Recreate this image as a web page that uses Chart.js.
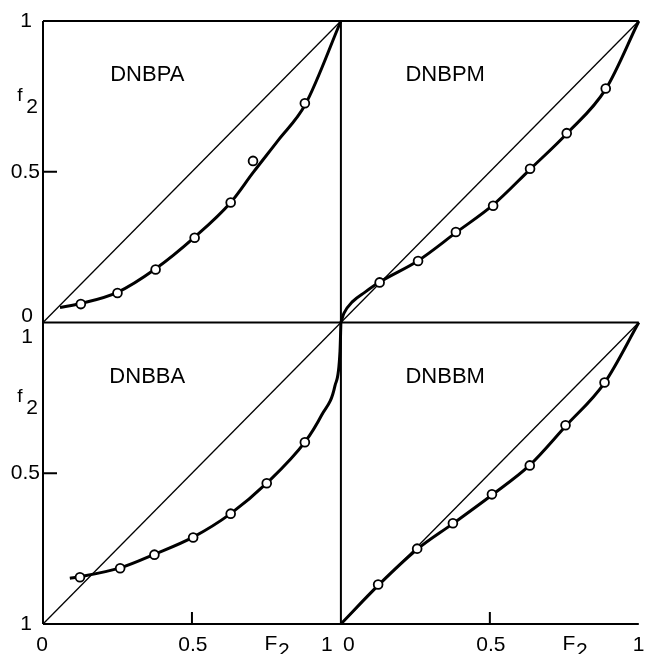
<!DOCTYPE html>
<html><head><meta charset="utf-8">
<script src="https://cdn.jsdelivr.net/npm/chart.js@4/dist/chart.umd.min.js"></script>
<style>html,body{margin:0;padding:0;background:#fff;overflow:hidden}#wrap{position:relative;width:645px;height:654px}canvas{display:block}</style>
</head><body><div id="wrap"><canvas id="c" width="645" height="654"></canvas></div>
<script>
// Panel titles
const panelTitles = ['DNBPA', 'DNBPM', 'DNBBA', 'DNBBM'];
// Axis tick labels
const yTopLabels = ['1', '0.5', '0'];
const yBottomLabels = ['1', '0.5', '1'];
const xLabels = ['0', '0.5', 'F', '2', '1'];

// Diagonal f2 = F2
const diagF = [0, 1];
const diagY = [0, 1];

// DNBPA (top-left): measured points and fitted curve
const dnbpaF = [0.127, 0.25, 0.378, 0.509, 0.630, 0.705, 0.879];
const dnbpaY = [0.061, 0.098, 0.176, 0.281, 0.398, 0.536, 0.727];
const dnbpaCurveF = [0.057, 0.127, 0.25, 0.378, 0.509, 0.63, 0.705, 0.79, 0.88, 1];
const dnbpaCurveY = [0.05, 0.063, 0.1, 0.178, 0.283, 0.398, 0.497, 0.605, 0.722, 1];

// DNBPM (top-right)
const dnbpmF = [0.130, 0.259, 0.386, 0.511, 0.635, 0.758, 0.889];
const dnbpmY = [0.133, 0.204, 0.300, 0.387, 0.510, 0.628, 0.776];
const dnbpmCurveF = [0, 0.01, 0.04, 0.08, 0.13, 0.259, 0.386, 0.511, 0.635, 0.758, 0.889, 1];
const dnbpmCurveY = [0, 0.03, 0.07, 0.1, 0.134, 0.205, 0.298, 0.39, 0.508, 0.626, 0.774, 1];

// DNBBA (bottom-left)
const dnbbaF = [0.124, 0.259, 0.374, 0.504, 0.630, 0.751, 0.879];
const dnbbaY = [0.155, 0.185, 0.230, 0.287, 0.366, 0.467, 0.603];
const dnbbaCurveF = [0.09, 0.124, 0.259, 0.374, 0.504, 0.63, 0.751, 0.879, 0.936, 0.98, 0.997, 1];
const dnbbaCurveY = [0.152, 0.157, 0.186, 0.231, 0.288, 0.366, 0.467, 0.603, 0.694, 0.79, 0.905, 1];

// DNBBM (bottom-right)
const dnbbmF = [0.125, 0.256, 0.376, 0.507, 0.634, 0.754, 0.885];
const dnbbmY = [0.131, 0.250, 0.334, 0.430, 0.526, 0.659, 0.801];
const dnbbmCurveF = [0, 0.125, 0.256, 0.376, 0.507, 0.634, 0.754, 0.885, 1];
const dnbbmCurveY = [0, 0.128, 0.248, 0.333, 0.428, 0.527, 0.656, 0.8, 1];

function pts(xs, ys) { return xs.map((x, i) => ({ x: x, y: ys[i] })); }
function curve(xs, ys, xa, ya, w) {
  return { data: pts(xs, ys), xAxisID: xa, yAxisID: ya, showLine: true, borderColor: '#000',
    borderWidth: w, pointRadius: 0, fill: false, cubicInterpolationMode: 'monotone', order: 2, clip: false };
}
function circles(xs, ys, xa, ya) {
  return { data: pts(xs, ys), xAxisID: xa, yAxisID: ya, showLine: false, pointRadius: 4.4,
    pointBackgroundColor: '#fff', pointBorderColor: '#000', pointBorderWidth: 1.8, order: 0, clip: false };
}

const panels = [
  { xa: 'xL', ya: 'yT', F: dnbpaF, Y: dnbpaY, cF: dnbpaCurveF, cY: dnbpaCurveY },
  { xa: 'xR', ya: 'yT', F: dnbpmF, Y: dnbpmY, cF: dnbpmCurveF, cY: dnbpmCurveY },
  { xa: 'xL', ya: 'yB', F: dnbbaF, Y: dnbbaY, cF: dnbbaCurveF, cY: dnbbaCurveY },
  { xa: 'xR', ya: 'yB', F: dnbbmF, Y: dnbbmY, cF: dnbbmCurveF, cY: dnbbmCurveY }
];

const datasets = [];
panels.forEach(p => {
  datasets.push(circles(p.F, p.Y, p.xa, p.ya));
  datasets.push(curve(p.cF, p.cY, p.xa, p.ya, 3));
  const d = curve(diagF, diagY, p.xa, p.ya, 1.3);
  d.cubicInterpolationMode = 'default'; d.order = 3;
  datasets.push(d);
});

const FONT = '"Liberation Sans", Arial, sans-serif';

const framePlugin = {
  id: 'frame',
  beforeDatasetsDraw(chart) {
    const ctx = chart.ctx, s = chart.scales;
    const L = s.xL.getPixelForValue(0), M = s.xL.getPixelForValue(1), R = s.xL.getPixelForValue(2);
    const T = s.yB.getPixelForValue(2), Mi = s.yB.getPixelForValue(1), B = s.yB.getPixelForValue(0);
    ctx.save();
    ctx.strokeStyle = '#000';
    ctx.lineWidth = 2;
    ctx.beginPath();
    ctx.moveTo(L, T); ctx.lineTo(R, T);
    ctx.moveTo(L, Mi); ctx.lineTo(R, Mi);
    ctx.moveTo(L, B); ctx.lineTo(R, B);
    ctx.moveTo(L, T); ctx.lineTo(L, B);
    ctx.moveTo(M, T); ctx.lineTo(M, B);
    // inward ticks at 0.5
    ctx.moveTo(L, s.yT.getPixelForValue(0.5)); ctx.lineTo(L + 14, s.yT.getPixelForValue(0.5));
    ctx.moveTo(L, s.yB.getPixelForValue(0.5)); ctx.lineTo(L + 14, s.yB.getPixelForValue(0.5));
    ctx.moveTo(s.xL.getPixelForValue(0.5), B); ctx.lineTo(s.xL.getPixelForValue(0.5), B - 12);
    ctx.moveTo(s.xR.getPixelForValue(0.5), B); ctx.lineTo(s.xR.getPixelForValue(0.5), B - 12);
    ctx.stroke();
    ctx.restore();
  },
  afterDatasetsDraw(chart) {
    const ctx = chart.ctx, s = chart.scales;
    const L = s.xL.getPixelForValue(0);
    const B = s.yB.getPixelForValue(0);
    ctx.save();
    ctx.fillStyle = '#000';
    // titles
    ctx.font = '22px ' + FONT;
    ctx.textAlign = 'center'; ctx.textBaseline = 'middle';
    panels.forEach((p, i) => {
      ctx.fillText(panelTitles[i], s[p.xa].getPixelForValue(0.35), s[p.ya].getPixelForValue(0.82));
    });
    // y labels
    ctx.font = '21px ' + FONT;
    ctx.textAlign = 'right';
    ctx.textBaseline = 'middle';
    ctx.fillText(yTopLabels[0], L - 11, s.yT.getPixelForValue(1));
    ctx.fillText(yTopLabels[1], L - 3, s.yT.getPixelForValue(0.5));
    ctx.textBaseline = 'alphabetic';
    ctx.fillText(yTopLabels[2], L - 10, s.yT.getPixelForValue(0) - 1);
    ctx.fillText(yBottomLabels[0], L - 10, s.yB.getPixelForValue(1) + 20);
    ctx.textBaseline = 'middle';
    ctx.fillText(yBottomLabels[1], L - 3, s.yB.getPixelForValue(0.5));
    ctx.fillText(yBottomLabels[2], L - 11, B);
    // f2 labels
    [s.yT, s.yB].forEach(ys => {
      ctx.textAlign = 'center'; ctx.textBaseline = 'alphabetic';
      ctx.font = '19px ' + FONT;
      ctx.fillText('f', L - 23, ys.getPixelForValue(0.735));
      ctx.font = '21px ' + FONT;
      ctx.fillText('2', L - 11, ys.getPixelForValue(0.695));
    });
    // x labels
    ctx.font = '21px ' + FONT;
    ctx.textAlign = 'center'; ctx.textBaseline = 'top';
    const ty = B + 11;
    [s.xL, s.xR].forEach((xs, k) => {
      ctx.fillText(xLabels[0], xs.getPixelForValue(0) + (k === 0 ? -1 : 8), ty);
      ctx.fillText(xLabels[1], xs.getPixelForValue(0.5) + 1, ty);
      const fx = xs.getPixelForValue(0.765);
      ctx.fillText(xLabels[2], fx, ty - 1);
      ctx.fillText(xLabels[3], fx + 13, ty + 6);
    });
    ctx.fillText(xLabels[4], s.xL.getPixelForValue(1) - 14, ty);
    ctx.textAlign = 'left';
    ctx.fillText(xLabels[4], s.xR.getPixelForValue(1) - 6, ty);
    ctx.restore();
  }
};

new Chart(document.getElementById('c'), {
  type: 'scatter',
  data: { datasets: datasets },
  options: {
    responsive: false, animation: false, devicePixelRatio: 1,
    layout: { padding: { left: 43, right: 1, top: 21, bottom: 30 } },
    plugins: { legend: { display: false }, tooltip: { enabled: false } },
    scales: {
      xL: { type: 'linear', position: 'bottom', min: 0, max: 2, display: false },
      xR: { type: 'linear', position: 'bottom', min: -1, max: 1, display: false },
      yB: { type: 'linear', position: 'left', min: 0, max: 2, display: false },
      yT: { type: 'linear', position: 'left', min: -1, max: 1, display: false }
    }
  },
  plugins: [framePlugin]
});
</script></body></html>
